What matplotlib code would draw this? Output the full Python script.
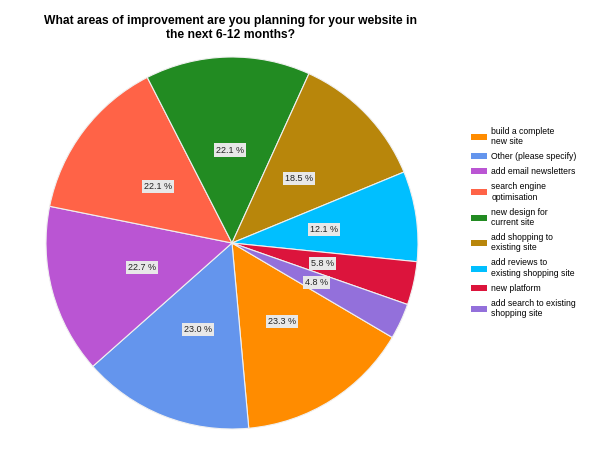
import matplotlib.pyplot as plt
from matplotlib.patches import Patch

plt.rcParams['font.family'] = ['Liberation Sans', 'DejaVu Sans']

# survey answers (multiple choice, so percentages add up to more than 100)
categories = ['build a complete\nnew site', 'Other (please specify)', 'add email newsletters',
              'search engine\noptimisation', 'new design for\ncurrent site',
              'add shopping to\nexisting site', 'add reviews to\nexisting shopping site',
              'new platform', 'add search to existing\nshopping site']
percents = [23.3, 23.0, 22.7, 22.1, 22.1, 18.5, 12.1, 5.8, 4.8]
colors = ['#FF8C00', '#6495ED', '#BA55D3', '#FF6347', '#228B22',
          '#B8860B', '#00BFFF', '#DC143C', '#9370DB']

fig = plt.figure(figsize=(6, 4.5), dpi=100)

# pie centre at about (232, 243) px, radius 186 px
r_px = 186
pad = 1.03
w = 2 * r_px * pad
ax = fig.add_axes([(232 - w / 2) / 600, (450 - 243 - w / 2) / 450, w / 600, w / 450])
wedges, texts = ax.pie(percents, colors=colors, startangle=-30.5, counterclock=False,
                       labels=[f'{p:.1f} %' for p in percents], labeldistance=0.5,
                       wedgeprops=dict(edgecolor='#f0f0f0', linewidth=0.8),
                       textprops=dict(fontsize=6.5, color='#222222', ha='center', va='center'))
for t in texts:
    t.set_bbox(dict(facecolor='#e8e8e8', edgecolor='none', pad=1.5))
ax.set_xlim(-pad, pad)
ax.set_ylim(-pad, pad)
ax.set_aspect('equal')
ax.axis('off')

fig.text(231 / 600, 1 - 28 / 450,
         'What areas of improvement are you planning for your website in\nthe next 6-12 months?',
         ha='center', va='center', fontsize=8.7, fontweight='bold', linespacing=1.2)

handles = [Patch(facecolor=c, edgecolor='none') for c in colors]
leg = fig.legend(handles, categories, loc='upper left', bbox_to_anchor=(463 / 600, 1 - 119 / 450),
                 frameon=False, fontsize=6.2, handlelength=1.9, handleheight=0.7,
                 handletextpad=0.5, labelspacing=0.71)
for t in leg.get_texts():
    t.set_linespacing(1.18)

plt.savefig('out.png', dpi=100)
